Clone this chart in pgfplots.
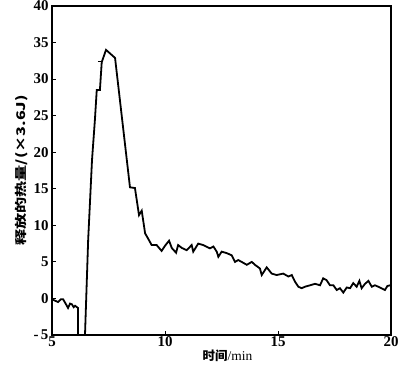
\documentclass[border=0pt]{standalone}
\usepackage{pgfplots}
\pgfplotsset{compat=1.18}
\usepackage{fontspec}
\setmainfont{Liberation Serif}
\newfontfamily\cjk{Noto Sans CJK SC}
\begin{document}
\begin{tikzpicture}
\begin{axis}[
  scale only axis,
  width=339bp, height=329bp,
  xmin=5, xmax=20, ymin=-5, ymax=40,
  xtick={5,10,15,20},
  ytick={-5,0,5,10,15,20,25,30,35,40},
  yticklabels={{-\,5},0,5,10,15,20,25,30,35,40},
  tick align=inside,
  tick pos=left,
  major tick length=4bp,
  axis line style={line width=1.3bp},
  tick style={line width=0.8bp, black},
  /pgf/number format/assume math mode=true,
  ticklabel style={font=\bfseries\fontsize{15}{15}\selectfont},
  xticklabel style={yshift=1.5bp},
  yticklabel style={xshift=0bp},
  xlabel={{\cjk\bfseries\fontsize{12.5}{13}\selectfont 时间}{\fontsize{13.5}{14}\selectfont /min}},
  ylabel={\scalebox{1.35}[1]{\cjk\bfseries\fontsize{12}{13}\selectfont 释放的热量/(×3.6J)}},
  xlabel style={yshift=4bp, xshift=6bp},
  ylabel style={yshift=-1bp},
]
\addplot[black, line width=1.8bp] coordinates {
(5.00,-0.1) (5.13,-0.3) (5.27,-0.5) (5.40,-0.1) (5.49,-0.1)
(5.62,-0.8) (5.71,-1.3) (5.80,-0.7) (5.88,-0.8) (5.96,-1.2)
(6.02,-1.0) (6.15,-1.3) (6.15,-5) (6.46,-5)
(6.60,8.0) (6.77,18.9) (6.90,24.5) (6.98,28.5) (7.12,28.5)
(7.20,32.3) (7.39,34.0) (7.79,32.9) (8.45,15.2) (8.67,15.1)
(8.85,11.4) (8.97,12.0) (9.12,8.9) (9.25,8.2) (9.41,7.3)
(9.63,7.3) (9.85,6.5) (10.00,7.2) (10.18,7.9) (10.30,6.9)
(10.49,6.25) (10.58,7.3) (10.75,6.9) (10.96,6.6) (11.18,7.3)
(11.25,6.4) (11.47,7.5) (11.69,7.3) (11.99,6.85) (12.14,7.1)
(12.29,6.4) (12.36,5.7) (12.51,6.4) (12.73,6.2) (12.95,5.9)
(13.10,5.0) (13.24,5.25) (13.39,5.0) (13.62,4.6) (13.84,5.0)
(13.98,4.6) (14.20,4.1) (14.28,3.2) (14.50,4.25) (14.72,3.4)
(14.94,3.2) (15.23,3.4) (15.46,3.0) (15.61,3.2) (15.75,2.3)
(15.90,1.6) (16.05,1.4) (16.19,1.6) (16.42,1.8) (16.64,2.0)
(16.86,1.8) (17.00,2.75) (17.15,2.5) (17.30,1.8) (17.45,1.8)
(17.60,1.15) (17.74,1.4) (17.89,0.8) (18.04,1.5) (18.19,1.4)
(18.33,2.1) (18.48,1.6) (18.60,2.4) (18.70,1.4) (18.85,2.0)
(19.00,2.4) (19.15,1.6) (19.29,1.8) (19.51,1.5) (19.73,1.15)
(19.84,1.7) (19.96,1.8)
};
\addplot[black, line width=1.8bp] coordinates {(7.03,32.4) (7.20,32.4)};
\end{axis}
\pgfresetboundingbox
\path (current axis.south west) ++(-52bp,-34bp) coordinate (bbA);
\path (current axis.north east) ++(14bp,6bp) coordinate (bbB);
\useasboundingbox (bbA) rectangle (bbB);
\end{tikzpicture}
\end{document}
